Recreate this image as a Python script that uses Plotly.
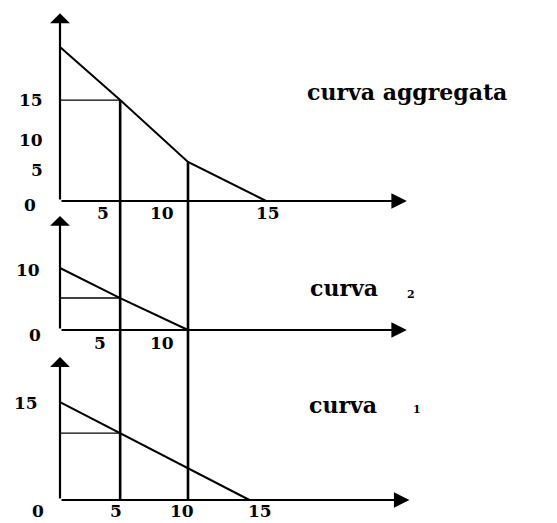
import plotly.graph_objects as go

# ---------------- data ----------------
# quantities at which the two vertical guide lines are drawn
q_lines = [4.7, 10.0]

# curva aggregata (top panel)
agg_x = [0.0, 4.7, 10.0, 16.1]
agg_y = [22.9, 15.0, 5.8, 0.0]

# curva 2 (middle panel)
c2_x = [0.0, 4.7, 10.0]
c2_y = [10.0, 5.16, 0.0]

# curva 1 (bottom panel)
c1_x = [0.0, 14.8]
c1_y = [15.0, 0.0]

# tick labels and where they appear
top_ylabels = ["15", "10", "5"]
top_ylabel_pos = [15.0, 9.06, 4.6]
top_xlabels = ["5", "10", "15"]
top_xlabel_pos = [3.36, 7.97, 16.25]

mid_ylabels = ["10"]
mid_ylabel_pos = [9.7]
mid_xlabels = ["5", "10"]
mid_xlabel_pos = [3.125, 7.97]

bot_ylabels = ["15"]
bot_ylabel_pos = [14.85]
bot_xlabels = ["0", "5", "10", "15"]
bot_xlabel_pos = [-1.72, 4.375, 9.53, 15.6]

# ---------------- axes geometry ----------------
W, H = 549, 515
xr = [-4.0625, 38.83]
r_top = [-47.85, 28.68]
r_mid = [-31.13, 51.94]
r_bot = [-3.52, 75.34]
top_arrow = (27.1, 27.9)   # x-axis tip, y-axis tip
mid_arrow = (27.1, 18.4)
bot_arrow = (27.3, 21.9)


def convert(v, src, dst):
    f = (v - src[0]) / (src[1] - src[0])
    return dst[0] + f * (dst[1] - dst[0])


FONT = "DejaVu Serif"
fig = go.Figure()

line_main = dict(color="black", width=2)
line_thin = dict(color="black", width=1.3)

# top panel
fig.add_trace(go.Scatter(x=agg_x, y=agg_y, mode="lines", line=line_main, yaxis="y"))
fig.add_trace(go.Scatter(x=[0, q_lines[0]], y=[agg_y[1], agg_y[1]], mode="lines",
                         line=line_thin, yaxis="y"))
# middle panel
fig.add_trace(go.Scatter(x=c2_x, y=c2_y, mode="lines", line=line_main, yaxis="y2"))
fig.add_trace(go.Scatter(x=[0, q_lines[0]], y=[c2_y[1], c2_y[1]], mode="lines",
                         line=line_thin, yaxis="y2"))
# bottom panel
c1_at_q = c1_y[0] + (c1_y[1] - c1_y[0]) * q_lines[0] / c1_x[1]
fig.add_trace(go.Scatter(x=c1_x, y=c1_y, mode="lines", line=line_main, yaxis="y3"))
fig.add_trace(go.Scatter(x=[0, q_lines[0]], y=[c1_at_q, c1_at_q], mode="lines",
                         line=line_thin, yaxis="y3"))

# vertical guide lines running from the aggregate curve down to the bottom axis
tops = [agg_y[1], agg_y[2]]
for q, t in zip(q_lines, tops):
    fig.add_trace(go.Scatter(x=[q, q], y=[convert(t, r_top, r_bot), 0], mode="lines",
                             line=dict(color="black", width=2.6), yaxis="y3"))

annotations = []


def axis_arrows(ya, tips):
    # horizontal axis
    annotations.append(dict(x=tips[0], y=0, ax=0, ay=0, xref="x", yref=ya, axref="x", ayref=ya,
                            text="", showarrow=True, arrowhead=2, arrowsize=1.55,
                            arrowwidth=2, arrowcolor="black", standoff=0, startstandoff=0))
    # vertical axis
    annotations.append(dict(x=0, y=tips[1], ax=0, ay=0, xref="x", yref=ya, axref="x", ayref=ya,
                            text="", showarrow=True, arrowhead=1, arrowsize=1.5,
                            arrowwidth=2.2, arrowcolor="black", standoff=0, startstandoff=0))


axis_arrows("y", top_arrow)
axis_arrows("y2", mid_arrow)
axis_arrows("y3", bot_arrow)


def label(text, x, y, yref, xanchor="center", size=17):
    annotations.append(dict(x=x, y=y, xref="x", yref=yref, text="<b>" + text + "</b>",
                            showarrow=False, xanchor=xanchor, yanchor="middle",
                            font=dict(family=FONT, size=size, color="black")))


for t, p in zip(top_ylabels, top_ylabel_pos):
    label(t, -1.17, p, "y", "right")
label("0", -2.34, -0.6, "y")
for t, p in zip(top_xlabels, top_xlabel_pos):
    label(t, p, -1.8, "y")

for t, p in zip(mid_ylabels, mid_ylabel_pos):
    label(t, -1.4, p, "y2", "right")
label("0", -1.95, -0.8, "y2")
for t, p in zip(mid_xlabels, mid_xlabel_pos):
    label(t, p, -2.1, "y2")

for t, p in zip(bot_ylabels, bot_ylabel_pos):
    label(t, -1.56, p, "y3", "right")
for t, p in zip(bot_xlabels, bot_xlabel_pos):
    label(t, p, -1.75, "y3")

label("curva aggregata", 19.14, 16.2, "y", "left", 22)
label("curva", 19.375, 6.77, "y2", "left", 22)
label("2", 27.4, 5.65, "y2", "center", 11)
label("curva", 19.3, 14.55, "y3", "left", 22)
label("1", 27.9, 13.8, "y3", "center", 11)

hidden = dict(visible=False, showgrid=False, zeroline=False, fixedrange=True)
fig.update_layout(
    width=W, height=H,
    margin=dict(l=0, r=0, t=0, b=0),
    paper_bgcolor="white", plot_bgcolor="white",
    showlegend=False,
    xaxis=dict(range=xr, domain=[0, 1], **hidden),
    yaxis=dict(range=r_top, domain=[0, 1], **hidden),
    yaxis2=dict(range=r_mid, overlaying="y", **hidden),
    yaxis3=dict(range=r_bot, overlaying="y", **hidden),
    annotations=annotations,
)

fig.write_html("out.html")
